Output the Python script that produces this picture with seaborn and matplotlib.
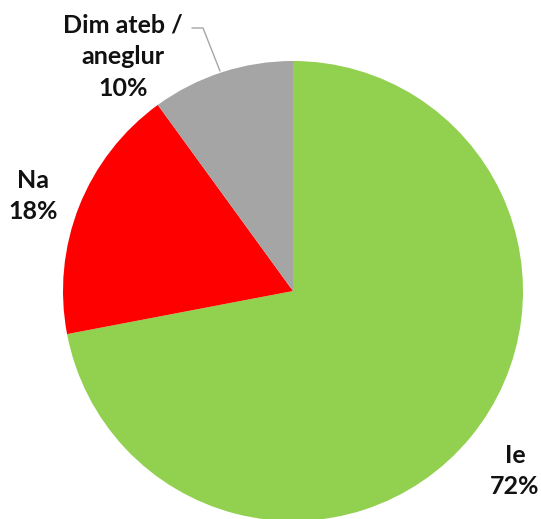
import matplotlib
matplotlib.use("Agg")
import matplotlib.pyplot as plt
import seaborn as sns

labels = ["Ie", "Na", "Dim ateb /\naneglur"]
shares = [72, 18, 10]
colors = ["#92D050", "#FF0000", "#A5A5A5"]

sns.set_theme(style="white")
plt.rcParams["font.family"] = ["Lato", "DejaVu Sans"]

fig = plt.figure(figsize=(5.41, 5.19), dpi=100)
ax = fig.add_axes([0, 0, 1, 1])

ax.pie(shares, colors=colors, startangle=90, counterclock=False,
       center=(293, 228), radius=230, frame=True,
       wedgeprops=dict(linewidth=0))
ax.set_xlim(0, 541)
ax.set_ylim(0, 519)
ax.set_aspect("equal")
ax.axis("off")

# label positions (figure pixels, y up)
pos = [(515, 48), (33, 323), (123, 462)]
for lab, s, (x, y) in zip(labels, shares, pos):
    ax.text(x, y, f"{lab}\n{s}%", ha="center", va="center", fontsize=18,
            fontweight="bold", color="#111111", linespacing=1.45)

# leader line for the small slice
ax.plot([192, 203, 220], [491, 491, 448], color="#A6A6A6", lw=1)

fig.savefig("out.png", dpi=100)
